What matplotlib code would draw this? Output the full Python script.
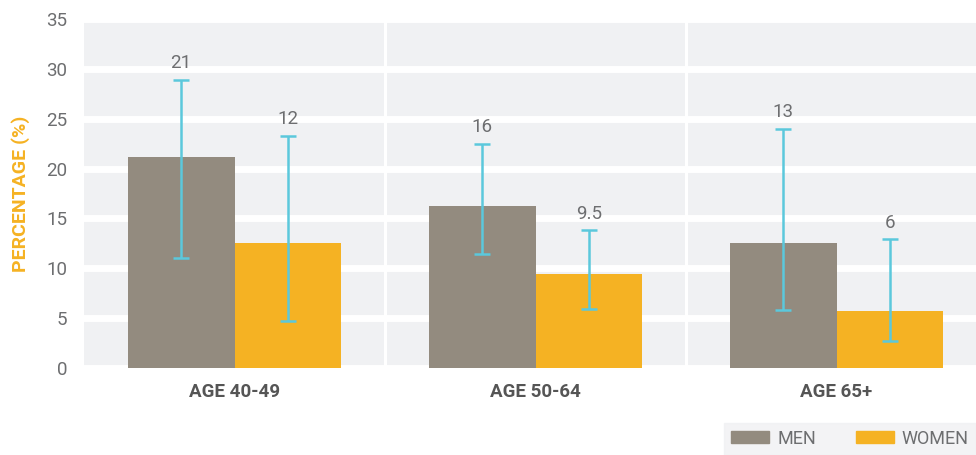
import numpy as np
import matplotlib.pyplot as plt
from matplotlib.patches import Patch

# datos
grupos = ["AGE 40-49", "AGE 50-64", "AGE 65+"]
hombres = [21.2, 16.2, 12.5]
mujeres = [12.5, 9.4, 5.7]
etiq_hombres = ["21", "16", "13"]
etiq_mujeres = ["12", "9.5", "6"]
err_hombres_bajo = [11.0, 11.4, 5.8]
err_hombres_alto = [28.9, 22.5, 24.0]
err_mujeres_bajo = [4.7, 5.9, 2.7]
err_mujeres_alto = [23.3, 13.8, 12.9]

c_hombres = "#938b7f"
c_mujeres = "#f5b223"
c_error = "#5bc8dc"
c_fondo = "#f0f1f3"
c_texto = "#6d6e70"

plt.rcParams["font.family"] = ["Roboto", "DejaVu Sans"]

fig = plt.figure(figsize=(9.76, 4.55), dpi=100)
ax = fig.add_axes([84 / 976, 87 / 455, (987 - 84) / 976, (368 - 19) / 455])
ax.set_facecolor(c_fondo)

x = np.arange(len(grupos))
w = 0.355
ax.bar(x - w / 2, hombres, w, color=c_hombres, zorder=3)
ax.bar(x + w / 2, mujeres, w, color=c_mujeres, zorder=3)

for xs, lo, hi, etiq in [(x - w / 2, err_hombres_bajo, err_hombres_alto, etiq_hombres),
                         (x + w / 2, err_mujeres_bajo, err_mujeres_alto, etiq_mujeres)]:
    lo = np.array(lo)
    hi = np.array(hi)
    mid = (lo + hi) / 2
    ax.errorbar(xs, mid, yerr=(hi - lo) / 2, fmt="none", ecolor=c_error,
                elinewidth=1.8, capsize=5.5, capthick=1.8, zorder=4)
    for xi, h, t in zip(xs, hi, etiq):
        ax.annotate(t, (xi, h), xytext=(0, 5.5), textcoords="offset points",
                    ha="center", va="bottom", fontsize=13.5, color=c_texto)

ax.set_xlim(-0.5, 2.5)
ax.set_ylim(0, 35)
ax.set_yticks(range(0, 36, 5))
ax.set_xticks(x)
ax.set_xticklabels(grupos, fontsize=13.5, fontweight="bold", color="#555555")
ax.tick_params(axis="y", labelsize=13.5, labelcolor=c_texto, length=0, pad=12)
ax.tick_params(axis="x", length=0, pad=11)
ax.yaxis.grid(True, color="white", linewidth=5, zorder=1)
ax.set_axisbelow(True)
for xv in [0.5, 1.5]:
    ax.axvline(xv, color="white", linewidth=2.2, zorder=1)
for s in ax.spines.values():
    s.set_visible(False)

ax.set_ylabel("PERCENTAGE (%)", color=c_mujeres, fontsize=14, fontweight="bold", labelpad=12)

handles = [Patch(color=c_hombres, label="MEN"), Patch(color=c_mujeres, label="WOMEN")]
leg = fig.legend(handles=handles, loc="lower right", bbox_to_anchor=(1.0, 0.0), ncol=2,
                 frameon=True, fancybox=False, fontsize=13, handlelength=2.1,
                 handleheight=0.65, columnspacing=2.2, handletextpad=0.45,
                 borderpad=0.4, borderaxespad=0)
leg.get_frame().set_facecolor(c_fondo)
leg.get_frame().set_edgecolor(c_fondo)
for t in leg.get_texts():
    t.set_color(c_texto)

fig.savefig("out.png", dpi=100)
